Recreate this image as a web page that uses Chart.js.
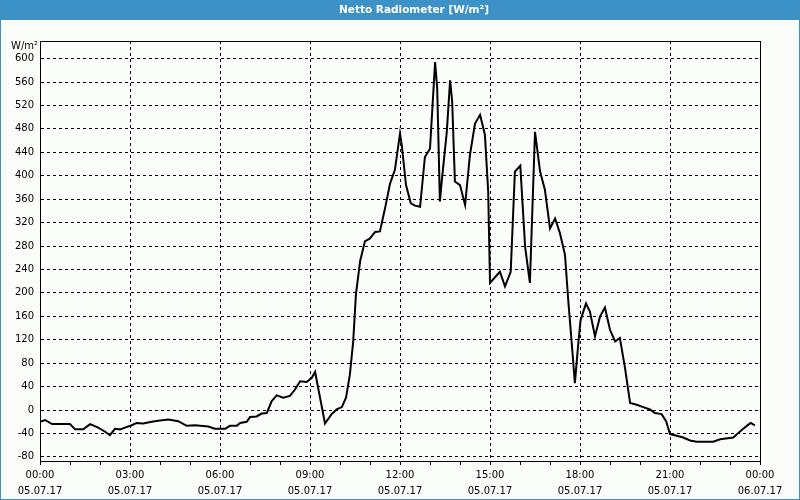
<!DOCTYPE html>
<html><head><meta charset="utf-8">
<script src="https://cdn.jsdelivr.net/npm/chart.js@4/dist/chart.umd.min.js"></script>
<style>html,body{margin:0;padding:0;background:#fbfdfb}#wrap{width:800px;height:500px;position:relative}</style>
</head><body><div id="wrap"><canvas id="c" width="800" height="500"></canvas></div>
<script>
const chartTitle = 'Netto Radiometer [W/m²]';
const unitLabel = 'W/m²';

// time of day in hours (05.07.17) and net radiation in W/m²
const timeHours = [
  0.00, 0.17, 0.40, 1.00, 1.17, 1.44, 1.67, 1.94, 2.17, 2.33, 2.50, 2.67, 2.83,
  3.06, 3.22, 3.44, 3.72, 4.00, 4.28, 4.61, 4.89, 5.17, 5.61, 5.83,
  6.17, 6.33, 6.56, 6.67, 6.89, 7.00, 7.22, 7.39, 7.56, 7.72, 7.89, 8.11, 8.33, 8.50, 8.67, 8.89,
  9.06, 9.17, 9.50, 9.72, 9.89, 10.06, 10.20, 10.33, 10.44, 10.53, 10.67, 10.83, 11.00, 11.17,
  11.33, 11.50, 11.67, 11.83, 12.00, 12.06, 12.20, 12.36, 12.50, 12.67, 12.83, 13.00, 13.17,
  13.24, 13.33, 13.39, 13.56, 13.67, 13.74, 13.83, 14.00, 14.17, 14.33, 14.50, 14.67, 14.83,
  14.94, 15.00, 15.33, 15.50, 15.69, 15.83, 16.01, 16.17, 16.33, 16.50, 16.67, 16.83, 17.00,
  17.17, 17.33, 17.50, 17.61, 17.72, 17.83, 17.94, 18.02, 18.20, 18.33, 18.50, 18.67, 18.83,
  19.00, 19.17, 19.33, 19.50, 19.67, 19.89, 20.11, 20.33, 20.50, 20.72, 20.87, 21.00, 21.22,
  21.44, 21.67, 21.89, 22.44, 22.67, 23.11, 23.28, 23.44, 23.56, 23.69, 23.83
];
const netRadiation = [
  -20, -17, -24, -24, -33, -33, -24, -30, -37, -43, -32, -33, -30,
  -26, -22, -23, -20, -18, -16, -19, -27, -26, -28, -32,
  -32, -27, -27, -22, -20, -12, -11, -6, -5, 15, 25, 21, 24, 35, 49, 48,
  55, 65, -23, -7, 1, 5, 21, 61, 117, 197, 254, 288, 293, 304,
  305, 344, 387, 410, 472, 452, 384, 353, 349, 347, 432, 446, 594,
  549, 356, 390, 475, 563, 526, 390, 384, 350, 435, 489, 504, 470,
  373, 217, 236, 211, 236, 407, 417, 279, 217, 475, 407, 376, 310,
  327, 302, 265, 186, 117, 46, 112, 154, 182, 168, 126, 160, 175,
  137, 117, 123, 72, 12, 9, 5, 1, -5, -7, -19, -41, -44,
  -47, -52, -54, -54, -50, -47, -39, -32, -27, -22, -26
];

const xTickHours = [0, 3, 6, 9, 12, 15, 18, 21, 24];
const xTickTimes = ['00:00', '03:00', '06:00', '09:00', '12:00', '15:00', '18:00', '21:00', '00:00'];
const xTickDates = ['05.07.17', '05.07.17', '05.07.17', '05.07.17', '05.07.17', '05.07.17', '05.07.17', '05.07.17', '06.07.17'];
const yTickValues = [-80, -40, 0, 40, 80, 120, 160, 200, 240, 280, 320, 360, 400, 440, 480, 520, 560, 600];

const FONT = 'DejaVu Sans';
const BLUE = '#3c91c6';

const frame = {
  id: 'frame',
  beforeDraw(chart) {
    const ctx = chart.ctx;
    ctx.save();
    ctx.fillStyle = '#fbfdfb';
    ctx.fillRect(0, 0, 800, 500);
    ctx.fillStyle = BLUE;
    ctx.fillRect(0, 0, 800, 20);
    ctx.strokeStyle = BLUE;
    ctx.lineWidth = 1;
    ctx.strokeRect(0.5, 0.5, 799, 499);
    ctx.fillStyle = '#ffffff';
    ctx.font = 'bold 10.5px "' + FONT + '"';
    ctx.textAlign = 'center';
    ctx.textBaseline = 'middle';
    ctx.fillText(chartTitle, 414, 10);
    ctx.restore();
  },
  afterDraw(chart) {
    const ctx = chart.ctx, a = chart.chartArea;
    ctx.save();
    ctx.strokeStyle = '#000';
    ctx.lineWidth = 1;
    ctx.setLineDash([]);
    ctx.beginPath();
    ctx.moveTo(Math.round(a.left) + 0.5, Math.round(a.top) + 0.5);
    ctx.lineTo(Math.round(a.right) + 0.5, Math.round(a.top) + 0.5);
    ctx.lineTo(Math.round(a.right) + 0.5, Math.round(a.bottom) + 0.5);
    ctx.stroke();
    ctx.fillStyle = '#000';
    ctx.font = '10px "' + FONT + '"';
    ctx.textAlign = 'right';
    ctx.textBaseline = 'middle';
    ctx.fillText(unitLabel, 38, 46);
    ctx.restore();
  }
};

new Chart(document.getElementById('c'), {
  type: 'line',
  data: {
    datasets: [{
      data: timeHours.map((h, i) => ({ x: h, y: netRadiation[i] })),
      borderColor: '#000',
      borderWidth: 2,
      pointRadius: 0,
      tension: 0,
      fill: false
    }]
  },
  options: {
    responsive: false,
    devicePixelRatio: 1,
    animation: false,
    layout: { padding: { top: 41, right: 40, bottom: 0, left: 0 } },
    plugins: { legend: { display: false }, title: { display: false }, tooltip: { enabled: false } },
    scales: {
      x: {
        type: 'linear',
        min: 0,
        max: 24,
        afterBuildTicks(scale) {
          const t = [];
          for (let h = 0; h <= 24; h++) t.push({ value: h });
          scale.ticks = t;
        },
        afterFit(scale) { scale.height = 39; },
        grid: {
          color: (c) => (c.tick && xTickHours.includes(c.tick.value)) ? '#000' : 'rgba(0,0,0,0)',
          tickColor: '#000',
          tickLength: 4,
          tickBorderDash: [],
          lineWidth: 1,
          drawTicks: true
        },
        border: { display: true, color: '#000', width: 1, dash: [3, 3] },
        ticks: {
          autoSkip: false,
          maxRotation: 0,
          padding: 2,
          color: '#000',
          font: { family: FONT, size: 10, lineHeight: 1.6 },
          callback: (v) => {
            const i = xTickHours.indexOf(v);
            return i >= 0 ? [xTickTimes[i], xTickDates[i]] : '';
          }
        }
      },
      y: {
        type: 'linear',
        min: -87,
        max: 630,
        afterBuildTicks(scale) { scale.ticks = yTickValues.map(v => ({ value: v })); },
        afterFit(scale) { scale.width = 40; },
        grid: { color: '#000', lineWidth: 1, drawTicks: false },
        border: { display: true, color: '#000', width: 1, dash: [3, 3] },
        ticks: {
          padding: 6,
          color: '#000',
          font: { family: FONT, size: 10 },
          callback: (v) => String(v)
        }
      }
    }
  },
  plugins: [frame]
});
</script>
</body></html>
